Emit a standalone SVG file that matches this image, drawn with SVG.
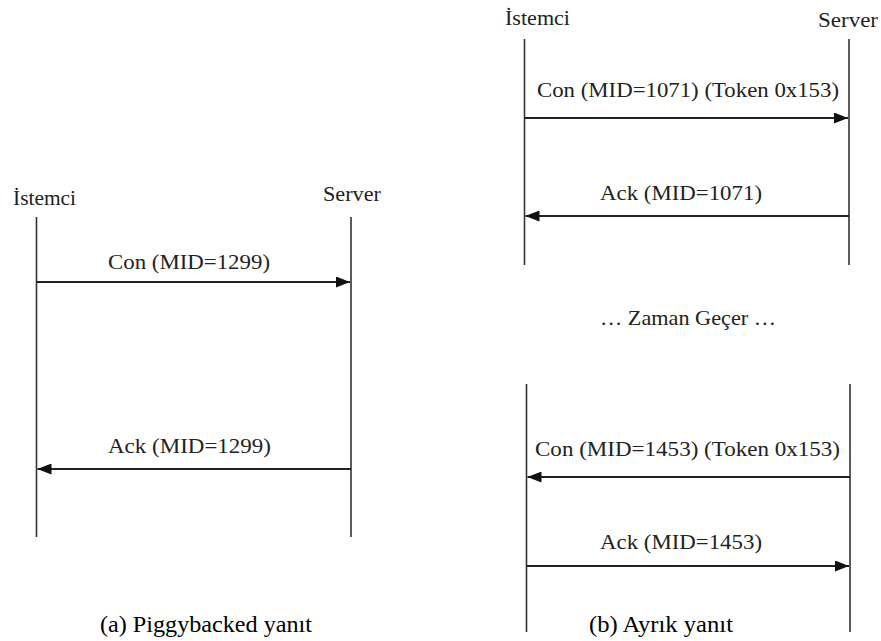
<svg xmlns="http://www.w3.org/2000/svg" width="881" height="641" viewBox="0 0 881 641">
  <style>
    text { font-family: "Liberation Serif", "Times New Roman", serif; font-size: 21px; fill: #222; }
    .cap { font-size: 24px; fill: #000; }
    .life { stroke: #333; stroke-width: 1.6; fill: none; }
    .msg { stroke: #222; stroke-width: 2; fill: none; }
  </style>
  <defs>
    <marker id="head" viewBox="0 0 14 11" refX="14" refY="5.5" markerWidth="14" markerHeight="11" markerUnits="userSpaceOnUse" orient="auto">
      <path d="M0,0 L14,5.5 L0,11 Z" fill="#111"/>
    </marker>
  </defs>

  <rect width="881" height="641" fill="#fff"/>

  <!-- (a) piggybacked response -->
  <g id="a-client">
    <text x="13" y="205" textLength="63" lengthAdjust="spacingAndGlyphs">İstemci</text>
    <line class="life" x1="36.5" y1="217" x2="36.5" y2="537"/>
  </g>
  <g id="a-server">
    <text x="323" y="201" textLength="58" lengthAdjust="spacingAndGlyphs">Server</text>
    <line class="life" x1="351" y1="217" x2="351" y2="537"/>
  </g>

  <!-- (b) separate response -->
  <g id="b-client">
    <text x="505" y="25" textLength="65" lengthAdjust="spacingAndGlyphs">İstemci</text>
    <line class="life" x1="524.5" y1="39" x2="524.5" y2="265"/>
    <line class="life" x1="526.5" y1="384" x2="526.5" y2="632"/>
  </g>
  <g id="b-server">
    <text x="818" y="27" textLength="60" lengthAdjust="spacingAndGlyphs">Server</text>
    <line class="life" x1="849" y1="39" x2="849" y2="265"/>
    <line class="life" x1="850" y1="384" x2="850" y2="632"/>
  </g>
  <g id="b-gap">
    <text x="600" y="325" textLength="176" lengthAdjust="spacingAndGlyphs">… Zaman Geçer …</text>
  </g>

  <g id="connectors">
    <line class="msg" x1="36.5" y1="282" x2="350" y2="282" marker-end="url(#head)"/>
    <text x="108" y="269" textLength="162" lengthAdjust="spacingAndGlyphs">Con (MID=1299)</text>

    <line class="msg" x1="351" y1="469" x2="37.5" y2="469" marker-end="url(#head)"/>
    <text x="108" y="453" textLength="163" lengthAdjust="spacingAndGlyphs">Ack (MID=1299)</text>

    <line class="msg" x1="524.5" y1="118" x2="848" y2="118" marker-end="url(#head)"/>
    <text x="537" y="97" textLength="302" lengthAdjust="spacingAndGlyphs">Con (MID=1071) (Token 0x153)</text>

    <line class="msg" x1="849" y1="216" x2="525.5" y2="216" marker-end="url(#head)"/>
    <text x="600" y="200" textLength="162" lengthAdjust="spacingAndGlyphs">Ack (MID=1071)</text>

    <line class="msg" x1="850" y1="477" x2="527.5" y2="477" marker-end="url(#head)"/>
    <text x="535" y="456" textLength="305" lengthAdjust="spacingAndGlyphs">Con (MID=1453) (Token 0x153)</text>

    <line class="msg" x1="526.5" y1="566" x2="849" y2="566" marker-end="url(#head)"/>
    <text x="600" y="549" textLength="162" lengthAdjust="spacingAndGlyphs">Ack (MID=1453)</text>
  </g>

  <g id="captions">
    <text class="cap" x="100" y="632" textLength="212" lengthAdjust="spacingAndGlyphs">(a) Piggybacked yanıt</text>
    <text class="cap" x="589" y="632" textLength="144" lengthAdjust="spacingAndGlyphs">(b) Ayrık yanıt</text>
  </g>
</svg>
